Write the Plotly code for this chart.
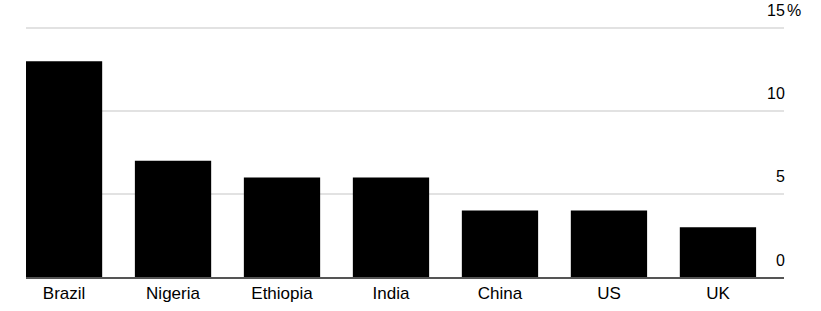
import plotly.graph_objects as go

countries = ["Brazil", "Nigeria", "Ethiopia", "India", "China", "US", "UK"]
values = [13, 7, 6, 6, 4, 4, 3]
y_ticks = [0, 5, 10, 15]
y_tick_labels = ["0", "5", "10", "15"]

FONT = "Liberation Sans, Arial, sans-serif"

fig = go.Figure()
fig.add_trace(go.Bar(
    x=list(range(len(countries))), y=values,
    marker=dict(color="#000000", line=dict(width=0)),
    width=0.7,
))

annotations = []
for v, t in zip(y_ticks, y_tick_labels):
    annotations.append(dict(
        xref="paper", yref="y", x=1, y=v, text=t, showarrow=False,
        xanchor="right", yanchor="middle", yshift=17, xshift=3,
        font=dict(family=FONT, size=16, color="#000000"),
    ))
annotations.append(dict(
    xref="paper", yref="y", x=1, y=y_ticks[-1], text="%", showarrow=False,
    xanchor="left", yanchor="middle", yshift=17, xshift=1,
    font=dict(family=FONT, size=16, color="#000000"),
))

fig.update_layout(
    width=821, height=311,
    margin=dict(l=26, r=37, t=23, b=34, autoexpand=False),
    paper_bgcolor="white", plot_bgcolor="white",
    showlegend=False,
    font=dict(family=FONT, size=17, color="#000000"),
    xaxis=dict(
        range=[-0.349, 6.606], automargin=False,
        tickvals=list(range(len(countries))), ticktext=countries,
        showgrid=False, zeroline=False,
        showline=True, linecolor="#555555", linewidth=1.5,
        ticks="", tickfont=dict(size=17, color="#000000"),
    ),
    yaxis=dict(
        range=[0, 15.3], tickvals=y_ticks, showticklabels=False, automargin=False,
        showgrid=True, gridcolor="#e2e2e2", gridwidth=1.5,
        zeroline=False, showline=False, ticks="",
    ),
    annotations=annotations,
)

fig.write_html("out.html")
